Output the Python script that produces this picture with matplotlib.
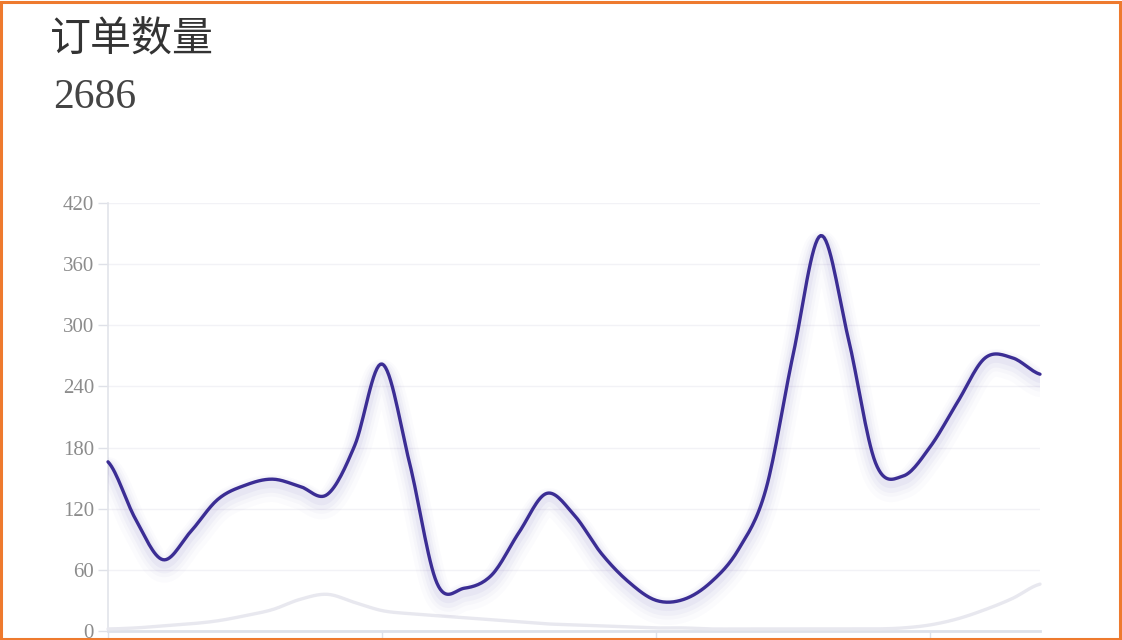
import numpy as np
import matplotlib
matplotlib.use("Agg")
import matplotlib.pyplot as plt
import matplotlib.transforms as mtransforms
from matplotlib.patches import Rectangle

# ---- data ----
title = "订单数量"
total = "2686"
categories = [f"D{i+1}" for i in range(35)]
orders = [166, 110, 70, 97, 129, 143, 149, 142, 134, 182, 262, 165,
          47, 42, 55, 97, 135, 114, 76, 48, 30, 31, 48, 80,
          139, 272, 388, 288, 165, 152, 181, 225, 268, 268, 252]
compare = [2, 3, 5, 7, 10, 15, 21, 31, 36, 28, 20, 17,
           15, 13, 11, 9, 7, 6, 5, 4, 3, 3, 2, 2,
           2, 2, 2, 2, 2, 3, 6, 12, 21, 32, 46]
y_ticks = [0, 60, 120, 180, 240, 300, 360, 420]
x_tick_every = 10

plt.rcParams['font.family'] = ['Noto Sans CJK SC', 'DejaVu Sans']


def smooth_curve(xv, yv, n=16, t=0.5):
    xv = np.asarray(xv, float)
    yv = np.asarray(yv, float)
    m = np.zeros_like(yv)
    m[1:-1] = (yv[2:] - yv[:-2]) * t
    m[0] = (yv[1] - yv[0]) * t
    m[-1] = (yv[-1] - yv[-2]) * t
    xs, ys = [], []
    s = np.linspace(0, 1, n, endpoint=False)
    h00 = 2 * s**3 - 3 * s**2 + 1
    h10 = s**3 - 2 * s**2 + s
    h01 = -2 * s**3 + 3 * s**2
    h11 = s**3 - s**2
    for i in range(len(xv) - 1):
        ys.append(h00 * yv[i] + h10 * m[i] + h01 * yv[i + 1] + h11 * m[i + 1])
        xs.append(xv[i] + s * (xv[i + 1] - xv[i]))
    xs.append([xv[-1]])
    ys.append([yv[-1]])
    return np.concatenate(xs), np.concatenate(ys)


fig = plt.figure(figsize=(11.22, 6.40), dpi=100)
fig.patch.set_facecolor('white')

ax = fig.add_axes([108 / 1122, 1 - 631 / 640, (1040 - 108) / 1122, (631 - 203) / 640])
x = np.arange(len(categories))

# comparison series (light)
cx, cy = smooth_curve(x, compare)
ax.plot(cx, cy, color='#e8e8ef', lw=2.4, solid_capstyle='round', zorder=3, clip_on=False)

# main series with soft shadow
sx, sy = smooth_curve(x, orders)
for dy, lw, a in [(-9, 20, 0.018), (-7, 15, 0.028), (-6, 11, 0.038), (-4, 7, 0.05)]:
    tr = mtransforms.offset_copy(ax.transData, fig=fig, x=0, y=dy, units='dots')
    ax.plot(sx, sy, color='#5a4ab0', lw=lw, alpha=a, transform=tr, zorder=3,
            solid_capstyle='round', solid_joinstyle='round')
ax.plot(sx, sy, color='#3b2d94', lw=2.4, zorder=4, solid_capstyle='round',
        solid_joinstyle='round', clip_on=False)

ax.set_xlim(0, len(categories) - 1)
ax.set_ylim(0, 420)
ax.set_yticks(y_ticks)
ax.set_yticklabels([str(v) for v in y_ticks], family=['Liberation Serif'], fontsize=15, color='#8c8c8c')
ax.set_xticks(x[::x_tick_every])
ax.set_xticklabels([categories[i] for i in x[::x_tick_every]])

for v in y_ticks[1:]:
    ax.axhline(v, color='#f2f2f6', lw=1.0, zorder=1)

for s in ['top', 'right']:
    ax.spines[s].set_visible(False)
ax.spines['left'].set_color('#e2e4ea')
ax.spines['left'].set_linewidth(1.2)
ax.spines['bottom'].set_color('#dde1ea')
ax.spines['bottom'].set_linewidth(2.0)
ax.tick_params(axis='y', length=7, width=1.0, color='#dfe1e8', pad=3)
ax.tick_params(axis='x', length=6, width=1.0, color='#dde1ea', labelbottom=False)
ax.set_facecolor('white')

fig.text(50 / 1122, 1 - 40 / 640, title, fontsize=29.5, color='#333333', va='center', ha='left',
         family=['Noto Sans CJK SC', 'DejaVu Sans'])
fig.text(53 / 1122, 1 - 98 / 640, total, fontsize=30, color='#444444', va='center', ha='left',
         family=['Liberation Serif'])

# orange frame
fig.patches.append(Rectangle((1 / 1122, 1 / 640), 1119 / 1122, 637 / 640, transform=fig.transFigure,
                             fill=False, edgecolor='#ee7a2e', lw=2.2, zorder=10))

fig.savefig('out.png', dpi=100, facecolor='white')
